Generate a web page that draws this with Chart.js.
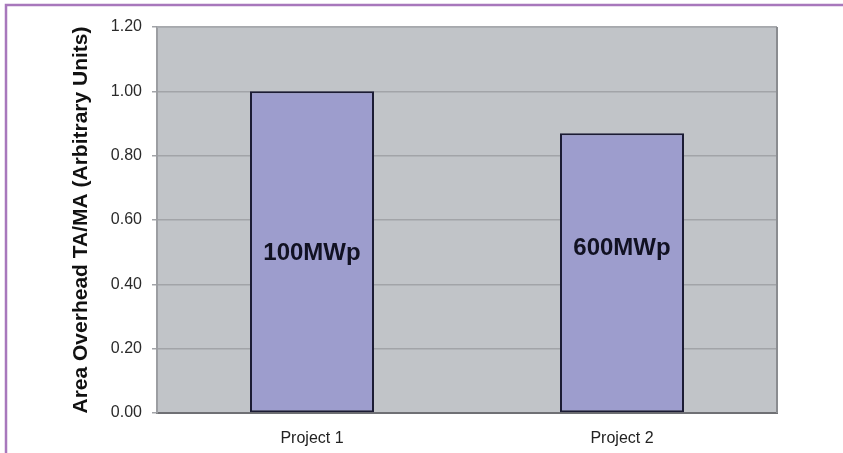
<!DOCTYPE html>
<html>
<head>
<meta charset="utf-8">
<script src="https://cdn.jsdelivr.net/npm/chart.js@4/dist/chart.umd.min.js"></script>
<style>
  html, body { margin: 0; padding: 0; background: #ffffff; }
  #wrap { width: 843px; height: 453px; }
</style>
</head>
<body>
<div id="wrap"><canvas id="c" width="843" height="453"></canvas></div>
<script>
const categories = ["Project 1", "Project 2"];
const areaOverhead = [1.00, 0.87];
const barLabels = ["100MWp", "600MWp"];
const barLabelLevels = [0.476, 0.491];
const yTicks = [0, 0.2, 0.4, 0.6, 0.8, 1.0, 1.2];
const yTitle = "Area Overhead TA/MA (Arbitrary Units)";

const decorPlugin = {
  id: 'decor',
  beforeDraw(chart) {
    const {ctx, chartArea: a} = chart;
    ctx.save();
    ctx.fillStyle = '#ffffff';
    ctx.fillRect(0, 0, chart.width, chart.height);
    ctx.fillStyle = '#c1c4c8';
    ctx.fillRect(a.left, a.top, a.right - a.left, a.bottom - a.top);
    ctx.restore();
  },
  afterDatasetsDraw(chart) {
    const {ctx, chartArea: a} = chart;
    const x = chart.scales.x, y = chart.scales.y;
    ctx.save();
    ctx.strokeStyle = '#a9abaf';
    ctx.lineWidth = 1.5;
    ctx.beginPath(); ctx.moveTo(a.left, a.top); ctx.lineTo(a.right, a.top); ctx.stroke();
    ctx.strokeStyle = '#8a8c90';
    ctx.lineWidth = 2;
    ctx.beginPath(); ctx.moveTo(a.right, a.top); ctx.lineTo(a.right, a.bottom); ctx.stroke();
    ctx.fillStyle = '#111122';
    ctx.font = 'bold 24px "Liberation Sans", Arial, sans-serif';
    ctx.textAlign = 'center';
    ctx.textBaseline = 'alphabetic';
    barLabels.forEach((t, i) => {
      ctx.fillText(t, x.getPixelForValue(i), y.getPixelForValue(barLabelLevels[i]));
    });
    ctx.restore();
  },
  afterDraw(chart) {
    const {ctx} = chart;
    ctx.save();
    ctx.strokeStyle = '#a878bc';
    ctx.lineWidth = 2.5;
    ctx.beginPath();
    ctx.moveTo(6, 453);
    ctx.lineTo(6, 5);
    ctx.lineTo(843, 5);
    ctx.stroke();
    ctx.restore();
  }
};

new Chart(document.getElementById('c'), {
  type: 'bar',
  data: {
    labels: categories,
    datasets: [{
      data: areaOverhead,
      backgroundColor: '#9d9dcd',
      borderColor: '#1c1c34',
      borderWidth: 2,
      borderSkipped: false,
      categoryPercentage: 1.0,
      barPercentage: 0.4
    }]
  },
  options: {
    responsive: false,
    animation: false,
    devicePixelRatio: 1,
    layout: { padding: { top: 27, right: 66, left: 0, bottom: 0 } },
    plugins: { legend: { display: false }, tooltip: { enabled: false } },
    scales: {
      x: {
        grid: { display: false, drawTicks: false },
        border: { display: true, color: '#6f7074', width: 2 },
        ticks: {
          color: '#222222',
          padding: 16,
          font: { family: '"Liberation Sans", Arial, sans-serif', size: 16 }
        },
        afterFit(s) { s.height = 40; }
      },
      y: {
        min: 0,
        max: 1.2,
        afterBuildTicks(s) { s.ticks = yTicks.map(v => ({ value: v })); },
        grid: { color: '#a2a4a8', lineWidth: 1.5, tickLength: 5, drawTicks: true },
        border: { display: true, color: '#9c9ea2', width: 2 },
        ticks: {
          color: '#2a2a2a',
          padding: 10,
          font: { family: '"Liberation Sans", Arial, sans-serif', size: 16 },
          callback: v => Number(v).toFixed(2)
        },
        title: {
          display: true,
          text: yTitle,
          color: '#111111',
          padding: { top: 69, bottom: 0 },
          font: { family: '"Liberation Sans", Arial, sans-serif', size: 21, weight: 'bold' }
        },
        afterFit(s) { s.width = 157; }
      }
    }
  },
  plugins: [decorPlugin]
});
</script>
</body>
</html>
